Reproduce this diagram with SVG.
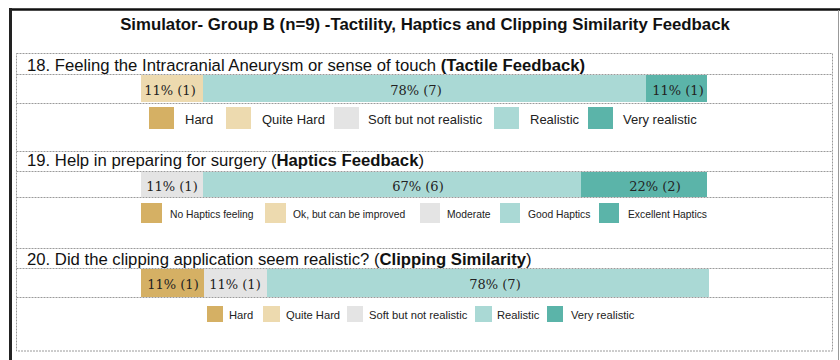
<svg xmlns="http://www.w3.org/2000/svg" width="840" height="360" viewBox="0 0 840 360">
<style>
.t{font-family:"Liberation Sans",Arial,sans-serif;fill:#111}
.title{font-size:16.8px;font-weight:bold}
.q{font-size:16.7px}
.b{font-weight:bold}
.v{font-family:"DejaVu Serif","Liberation Serif",serif;font-size:13px;fill:#222;text-anchor:middle}
.l1{font-size:13px;fill:#222}
.l2{font-size:10.3px;fill:#222}
.l3{font-size:11.2px;fill:#222}
.rl{stroke:#9a9a9a;stroke-width:1;stroke-dasharray:2 1;fill:none}
.c1{fill:#D5B064}.c2{fill:#EDDAAF}.c3{fill:#E4E4E4}.c4{fill:#AAD9D5}.c5{fill:#5BB4A9}
</style>
<rect width="840" height="360" fill="#fff"/>
<g id="frame">
<line x1="10" y1="9.5" x2="840" y2="9.5" stroke="#111" stroke-width="2.5"/>
<line x1="10.5" y1="8" x2="10.5" y2="360" stroke="#222" stroke-width="3"/>
<line x1="838.5" y1="10" x2="838.5" y2="360" stroke="#999" stroke-width="1"/>
<rect class="rl" x="16.5" y="53.5" width="816" height="297.5"/>
<path class="rl" d="M16.5 74.5H832.5M16.5 103.5H832.5M16.5 151.5H832.5M16.5 171.5H832.5M16.5 197.5H832.5M16.5 248.5H832.5M16.5 268.5H832.5M16.5 297.5H832.5"/>
</g>
<text class="t title" x="425" y="30" text-anchor="middle">Simulator- Group B (n=9) -Tactility, Haptics and Clipping Similarity Feedback</text>
<g id="q18">
<text class="t q" x="27" y="71">18. Feeling the Intracranial Aneurysm or sense of touch <tspan class="b">(Tactile Feedback)</tspan></text>
<rect class="c2" x="141" y="75" width="62" height="27"/>
<rect class="c4" x="203" y="75" width="443" height="27"/>
<rect class="c5" x="646" y="75" width="61" height="27"/>
<text class="v" x="170" y="95">11% (1)</text>
<text class="v" x="416" y="95">78% (7)</text>
<text class="v" x="678" y="95">11% (1)</text>
<g id="leg18">
<rect class="c1" x="149" y="107" width="25" height="22"/><text class="t l1" x="185" y="124">Hard</text>
<rect class="c2" x="226" y="107" width="25" height="22"/><text class="t l1" x="262" y="124">Quite Hard</text>
<rect class="c3" x="334" y="107" width="25" height="22"/><text class="t l1" x="368" y="124">Soft but not realistic</text>
<rect class="c4" x="494" y="107" width="25" height="22"/><text class="t l1" x="530" y="124">Realistic</text>
<rect class="c5" x="588" y="107" width="25" height="22"/><text class="t l1" x="623" y="124">Very realistic</text>
</g>
</g>
<g id="q19">
<text class="t q" x="27" y="166">19. Help in preparing for surgery (<tspan class="b">Haptics Feedback</tspan>)</text>
<rect class="c3" x="141" y="172" width="62" height="25"/>
<rect class="c4" x="203" y="172" width="378" height="25"/>
<rect class="c5" x="581" y="172" width="126" height="25"/>
<text class="v" x="172" y="191">11% (1)</text>
<text class="v" x="418" y="191">67% (6)</text>
<text class="v" x="655" y="191">22% (2)</text>
<g id="leg19">
<rect class="c1" x="141" y="203" width="21" height="20"/><text class="t l2" x="170" y="218">No Haptics feeling</text>
<rect class="c2" x="265" y="203" width="21" height="20"/><text class="t l2" x="293" y="218">Ok, but can be improved</text>
<rect class="c3" x="420" y="203" width="20" height="20"/><text class="t l2" x="447" y="218">Moderate</text>
<rect class="c4" x="500" y="203" width="20" height="20"/><text class="t l2" x="528" y="218">Good Haptics</text>
<rect class="c5" x="599" y="203" width="20" height="20"/><text class="t l2" x="628" y="218">Excellent Haptics</text>
</g>
</g>
<g id="q20">
<text class="t q" x="27" y="265">20. Did the clipping application seem realistic? (<tspan class="b">Clipping Similarity</tspan>)</text>
<rect class="c1" x="141" y="269" width="63" height="28"/>
<rect class="c3" x="204" y="269" width="63" height="28"/>
<rect class="c4" x="267" y="269" width="442" height="28"/>
<text class="v" x="173" y="289">11% (1)</text>
<text class="v" x="235" y="289">11% (1)</text>
<text class="v" x="495" y="289">78% (7)</text>
<g id="leg20">
<rect class="c1" x="207" y="306" width="16" height="16"/><text class="t l3" x="229" y="319">Hard</text>
<rect class="c2" x="263" y="306" width="17" height="16"/><text class="t l3" x="286" y="319">Quite Hard</text>
<rect class="c3" x="347" y="306" width="16" height="16"/><text class="t l3" x="369" y="319">Soft but not realistic</text>
<rect class="c4" x="475" y="306" width="17" height="16"/><text class="t l3" x="497" y="319">Realistic</text>
<rect class="c5" x="547" y="306" width="16" height="16"/><text class="t l3" x="571" y="319">Very realistic</text>
</g>
</g>
</svg>
